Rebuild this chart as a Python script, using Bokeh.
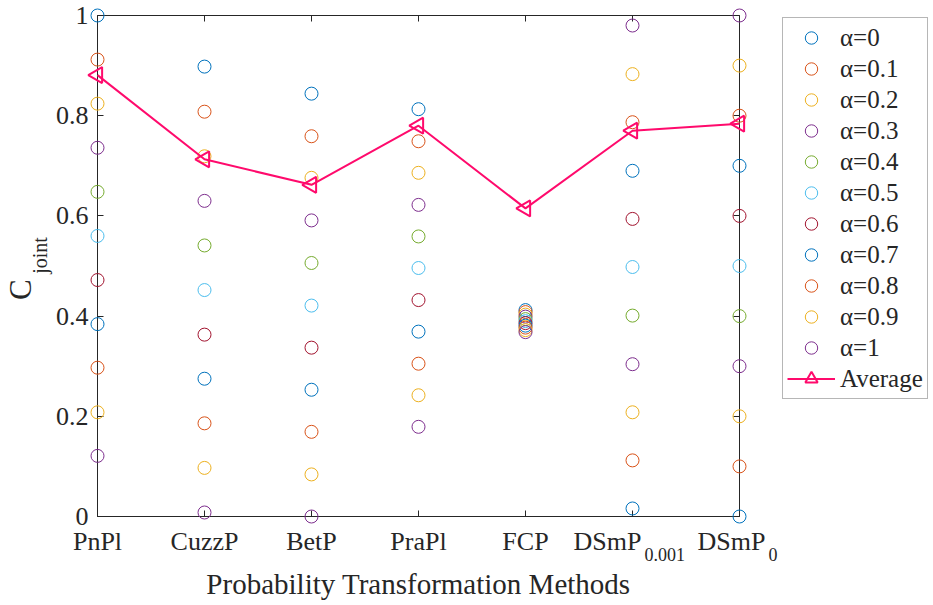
import math
from bokeh.plotting import figure
from bokeh.layouts import row
from bokeh.models import (FixedTicker, NumeralTickFormatter, Legend, LegendItem,
                          LinearAxis, Range1d)
from bokeh.core.properties import value
from bokeh.embed import file_html
from bokeh.resources import INLINE

# ---------------- data ----------------
methods = ["PnPl", "CuzzP", "BetP", "PraPl", "FCP", "DSmP_0.001", "DSmP_0"]
method_main = ["PnPl", "CuzzP", "BetP", "PraPl", "FCP", "DSmP", "DSmP"]
method_sub = ["", "", "", "", "", "0.001", "0"]
alphas = ["0", "0.1", "0.2", "0.3", "0.4", "0.5", "0.6", "0.7", "0.8", "0.9", "1"]

# C_joint values for alpha = 0 ... 1 (one list per method)
pnpl = [1.000, 0.912, 0.824, 0.736, 0.648, 0.560, 0.472, 0.384, 0.297, 0.208, 0.121]
cuzzp = [0.898, 0.808, 0.719, 0.630, 0.541, 0.452, 0.363, 0.275, 0.186, 0.097, 0.008]
betp = [0.844, 0.759, 0.676, 0.591, 0.506, 0.421, 0.337, 0.253, 0.169, 0.084, 0.000]
prapl = [0.813, 0.749, 0.686, 0.622, 0.559, 0.496, 0.432, 0.369, 0.305, 0.242, 0.179]
fcp = [0.412, 0.408, 0.403, 0.399, 0.394, 0.390, 0.386, 0.381, 0.377, 0.372, 0.368]
dsmp_0001 = [0.016, 0.112, 0.208, 0.304, 0.401, 0.498, 0.594, 0.690, 0.787, 0.883, 0.980]
dsmp_0 = [0.000, 0.100, 0.200, 0.300, 0.400, 0.500, 0.600, 0.700, 0.800, 0.900, 1.000]
average = [0.881, 0.713, 0.662, 0.780, 0.615, 0.770, 0.784]

y_ticks = [0, 0.2, 0.4, 0.6, 0.8, 1]

columns = [pnpl, cuzzp, betp, prapl, fcp, dsmp_0001, dsmp_0]
palette = ["#0072BD", "#D95319", "#EDB120", "#7E2F8E", "#77AC30", "#4DBEEE", "#A2142F"]
avg_color = "#FF0A6C"
ink = "#262626"
FONT = "Liberation Serif"

x = list(range(1, len(methods) + 1))

p = figure(frame_width=642, frame_height=501,
           x_range=Range1d(1, len(methods)), y_range=Range1d(0, 1),
           output_backend="svg", toolbar_location=None,
           min_border_left=97, min_border_top=15, min_border_right=41,
           min_border_bottom=86)
p.background_fill_color = "white"
p.border_fill_color = "white"
p.outline_line_color = ink
p.outline_line_width = 1
p.xgrid.visible = False
p.ygrid.visible = False

# bottom axis
xa = p.xaxis[0]
xa.ticker = FixedTicker(ticks=x)
xa.major_label_overrides = {i + 1: (m if not s else "") for i, (m, s) in enumerate(zip(method_main, method_sub))}
xa.major_label_text_font = FONT
xa.major_label_text_font_size = "26px"
xa.major_label_text_color = ink
xa.major_label_standoff = 10
xa.major_tick_in = 6
xa.major_tick_out = 0
xa.minor_tick_in = 0
xa.minor_tick_out = 0
xa.axis_line_color = ink
xa.major_tick_line_color = ink

# left axis
ya = p.yaxis[0]
ya.ticker = FixedTicker(ticks=y_ticks)
ya.formatter = NumeralTickFormatter(format="0.[0]")
ya.major_label_text_font = FONT
ya.major_label_text_font_size = "26px"
ya.major_label_text_color = ink
ya.major_label_standoff = 9
ya.major_tick_in = 6
ya.major_tick_out = 0
ya.minor_tick_in = 0
ya.minor_tick_out = 0
ya.axis_line_color = ink
ya.major_tick_line_color = ink

# mirrored ticks (top / right)
top_ax = LinearAxis(ticker=FixedTicker(ticks=x), major_label_text_font_size="0px",
                    major_label_standoff=0, major_tick_in=6, major_tick_out=0,
                    minor_tick_in=0, minor_tick_out=0, axis_line_color=None,
                    major_tick_line_color=ink,
                    major_label_overrides={v: "" for v in x})
p.add_layout(top_ax, "above")
right_ax = LinearAxis(ticker=FixedTicker(ticks=y_ticks), major_label_text_font_size="0px",
                      major_label_standoff=0, major_tick_in=6, major_tick_out=0,
                      minor_tick_in=0, minor_tick_out=0, axis_line_color=None,
                      major_tick_line_color=ink,
                      major_label_overrides={v: "" for v in y_ticks})
p.add_layout(right_ax, "right")

# alpha series
for i, a in enumerate(alphas):
    ys = [col[i] for col in columns]
    p.scatter(x, ys, marker="circle", size=13, fill_color=None,
              line_color=palette[i % len(palette)], line_width=1, level="overlay")

# average
p.line(x, average, line_color=avg_color, line_width=2, level="overlay")
p.scatter(x, average, marker="triangle", angle=math.pi / 2, size=16,
          fill_color=None, line_color=avg_color, line_width=2, level="overlay")

common = dict(text_font=value(FONT), text_color=ink, level="overlay")

# x tick labels with subscripts (DSmP_0.001, DSmP_0)
sub_x = [xi for xi, s in zip(x, method_sub) if s]
sub_main = [m for m, s in zip(method_main, method_sub) if s]
sub_txt = [s for s in method_sub if s]
sub_off = [9 if len(s) > 1 else 26 for s in sub_txt]
p.text(x=sub_x, y=[0] * len(sub_x), text=sub_main, x_offset=sub_off, y_offset=25,
       text_align="right", text_baseline="alphabetic",
       text_font_size=value("26px"), **common)
p.text(x=sub_x, y=[0] * len(sub_x), text=sub_txt, x_offset=[o + 3 for o in sub_off],
       y_offset=38, text_align="left", text_baseline="alphabetic",
       text_font_size=value("18px"), **common)

# x axis title
p.text(x=[(x[0] + x[-1]) / 2], y=[0], text=["Probability Transformation Methods"],
       y_offset=67, text_align="center", text_baseline="alphabetic",
       text_font_size=value("29px"), **common)

# y axis title C_joint (rotated)
p.text(x=[x[0]], y=[0.453], text=["C"], x_offset=-77, angle=math.pi / 2,
       text_align="center", text_baseline="middle",
       text_font_size=value("31px"), **common)
p.text(x=[x[0]], y=[0.521], text=["joint"], x_offset=-58, angle=math.pi / 2,
       text_align="center", text_baseline="middle",
       text_font_size=value("20px"), **common)

# ---------------- legend panel (separate figure to the right) ----------------
q = figure(width=151, height=602, output_backend="svg", toolbar_location=None,
           min_border_left=0, min_border_right=0, min_border_top=15, min_border_bottom=86,
           x_range=Range1d(0, 1), y_range=Range1d(0, 1))
q.axis.visible = False
q.grid.visible = False
q.outline_line_color = None
q.background_fill_color = "white"
q.border_fill_color = "white"

hidden = [math.nan]  # legend-only proxies, nothing drawn in the panel
items = []
for i, a in enumerate(alphas):
    r = q.scatter(hidden, hidden, marker="circle", size=13, fill_color=None,
                  line_color=palette[i % len(palette)], line_width=1)
    items.append(LegendItem(label="\u03b1=" + a, renderers=[r]))
rl = q.line(hidden, hidden, line_color=avg_color, line_width=2)
rt = q.scatter(hidden, hidden, marker="triangle", angle=math.pi / 2, size=16,
               fill_color=None, line_color=avg_color, line_width=2)
items.append(LegendItem(label="Average", renderers=[rl, rt]))

legend = Legend(items=items, location="top_left", margin=2, padding=4,
                glyph_width=48, glyph_height=31, label_height=31, spacing=0,
                label_standoff=5, label_text_font=FONT, label_text_font_size="25px",
                label_text_color=ink, border_line_color="#6e6e6e", border_line_width=1,
                background_fill_color="white", background_fill_alpha=1)
q.add_layout(legend)

layout = row(p, q, spacing=0)
open("out.html", "w").write(file_html(layout, INLINE))
